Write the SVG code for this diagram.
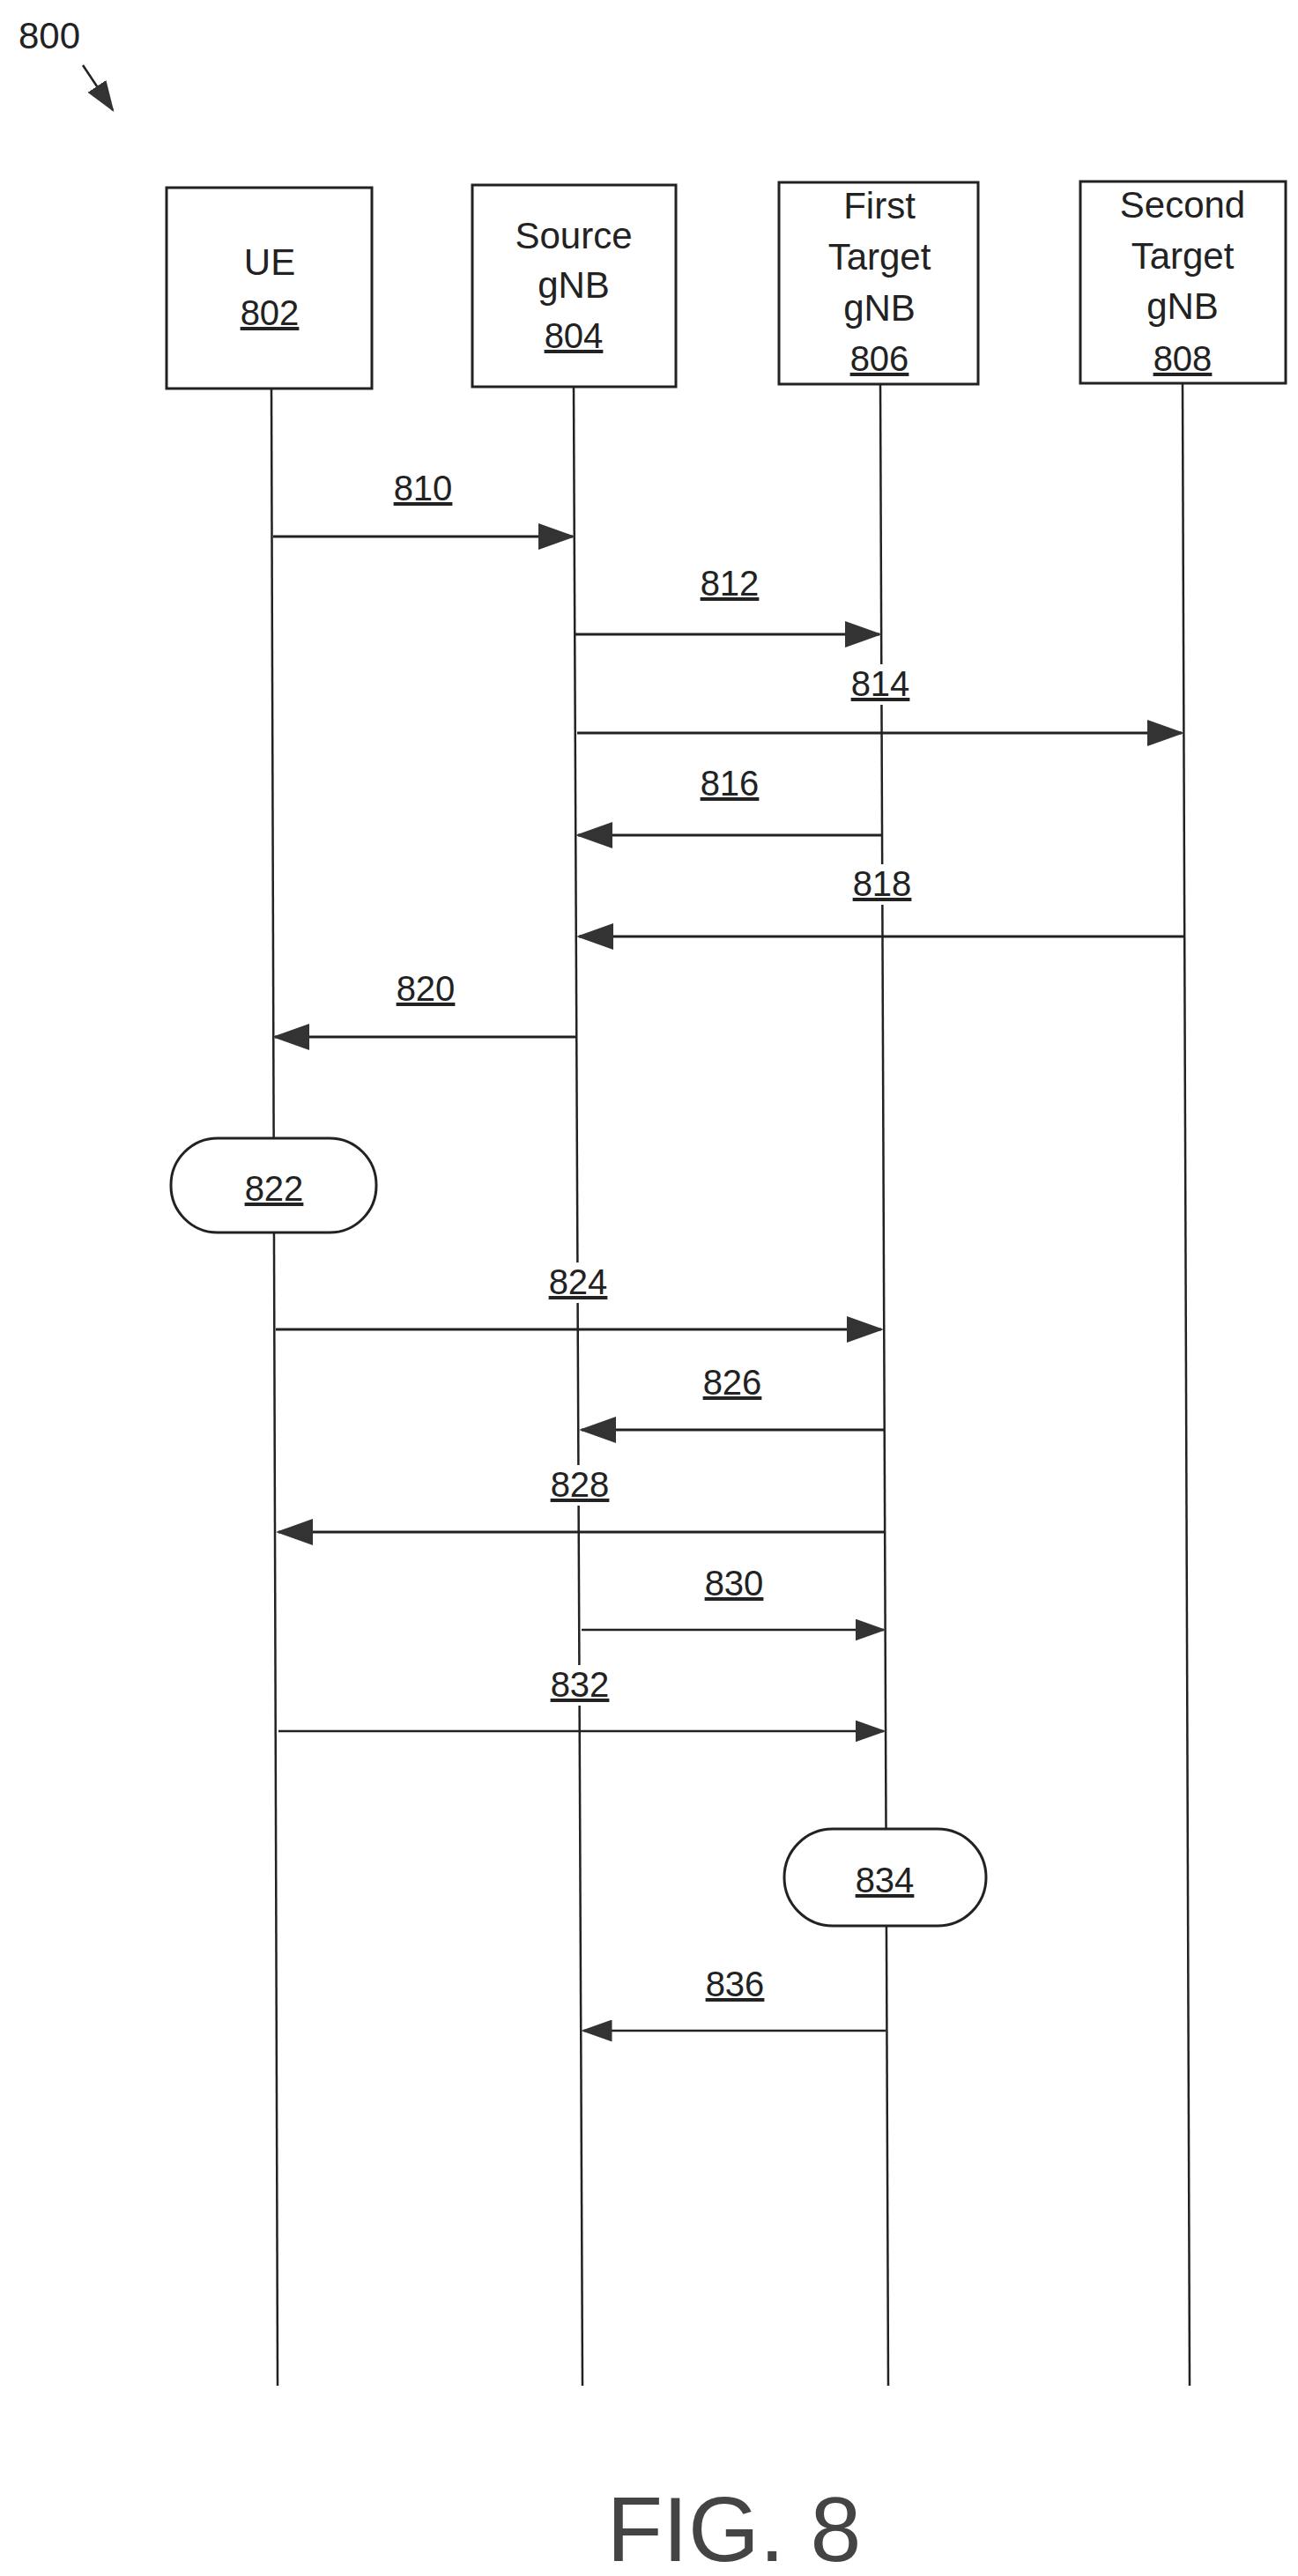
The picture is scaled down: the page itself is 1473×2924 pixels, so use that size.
<svg xmlns="http://www.w3.org/2000/svg" width="1473" height="2924" viewBox="0 0 1473 2924">
<style>
text{font-family:"Liberation Sans",Arial,sans-serif;fill:#222;text-anchor:middle}
.n{font-size:42px}
.l{font-size:40px;text-decoration:underline}
.box{fill:#fff;stroke:#222;stroke-width:3}
.life{stroke:#222;stroke-width:2.5;fill:none}
.msg{stroke:#222;stroke-width:3;fill:none;marker-end:url(#ah)}
.bg{fill:#fff}
</style>
<defs>
<marker id="ah" markerWidth="14" markerHeight="10" refX="13" refY="5" orient="auto" markerUnits="strokeWidth">
<path d="M0,0 L14,5 L0,10 Z" fill="#333"/>
</marker>
</defs>
<rect width="1473" height="2924" fill="#fff"/>
<g id="label800">
<text x="56" y="55" style="font-size:42px">800</text>
<line x1="94" y1="74" x2="128" y2="125" class="msg" style="stroke-width:2.5"/>
</g>
<g id="lifelines">
<line class="life" x1="308" y1="440" x2="315" y2="2708"/>
<line class="life" x1="651" y1="438" x2="661" y2="2708"/>
<line class="life" x1="999" y1="435" x2="1008" y2="2708"/>
<line class="life" x1="1342" y1="435" x2="1350" y2="2708"/>
</g>
<g id="ue"><rect class="box" x="189" y="213" width="233" height="228"/>
<text class="n" x="306" y="312">UE</text><text class="l" x="306" y="369">802</text></g>
<g id="source"><rect class="box" x="536" y="210" width="231" height="229"/>
<text class="n" x="651" y="282">Source</text><text class="n" x="651" y="338">gNB</text><text class="l" x="651" y="395">804</text></g>
<g id="first"><rect class="box" x="884" y="207" width="226" height="229"/>
<text class="n" x="998" y="248">First</text><text class="n" x="998" y="306">Target</text><text class="n" x="998" y="364">gNB</text><text class="l" x="998" y="421">806</text></g>
<g id="second"><rect class="box" x="1226" y="206" width="233" height="229"/>
<text class="n" x="1342" y="247">Second</text><text class="n" x="1342" y="305">Target</text><text class="n" x="1342" y="362">gNB</text><text class="l" x="1342" y="421">808</text></g>
<g id="p822"><rect class="box" x="194" y="1292" width="233" height="107" rx="53"/>
<text class="l" x="311" y="1363">822</text></g>
<g id="p834"><rect class="box" x="890" y="2076" width="229" height="110" rx="55"/>
<text class="l" x="1004" y="2148">834</text></g>
<g id="connectors">
<line class="msg" x1="310" y1="609" x2="650" y2="609"/>
<line class="msg" x1="653" y1="720" x2="998" y2="720"/>
<line class="msg" x1="655" y1="832" x2="1341" y2="832"/>
<line class="msg" x1="1001" y1="948" x2="656" y2="948"/>
<line class="msg" x1="1344" y1="1063" x2="657" y2="1063"/>
<line class="msg" x1="653" y1="1177" x2="312" y2="1177"/>
<line class="msg" x1="313" y1="1509" x2="1000" y2="1509"/>
<line class="msg" x1="1003" y1="1623" x2="660" y2="1623"/>
<line class="msg" x1="1003" y1="1739" x2="316" y2="1739"/>
<line class="msg" x1="660" y1="1850" x2="1003" y2="1850" style="stroke-width:2.5"/>
<line class="msg" x1="316" y1="1965" x2="1003" y2="1965" style="stroke-width:2.5"/>
<line class="msg" x1="1005" y1="2305" x2="662" y2="2305" style="stroke-width:2.5"/>
</g>
<g id="labels">
<text class="l" x="480" y="568">810</text>
<text class="l" x="828" y="676">812</text>
<rect class="bg" x="966" y="754" width="68" height="46"/><text class="l" x="999" y="790">814</text>
<text class="l" x="828" y="903">816</text>
<rect class="bg" x="968" y="981" width="68" height="46"/><text class="l" x="1001" y="1017">818</text>
<text class="l" x="483" y="1136">820</text>
<rect class="bg" x="622" y="1433" width="68" height="46"/><text class="l" x="656" y="1469">824</text>
<text class="l" x="831" y="1583">826</text>
<rect class="bg" x="624" y="1663" width="68" height="46"/><text class="l" x="658" y="1699">828</text>
<text class="l" x="833" y="1811">830</text>
<rect class="bg" x="624" y="1890" width="68" height="46"/><text class="l" x="658" y="1926">832</text>
<text class="l" x="834" y="2266">836</text>
</g>
<text x="833" y="2907" style="font-size:104px;fill:#444">FIG. 8</text>
</svg>
